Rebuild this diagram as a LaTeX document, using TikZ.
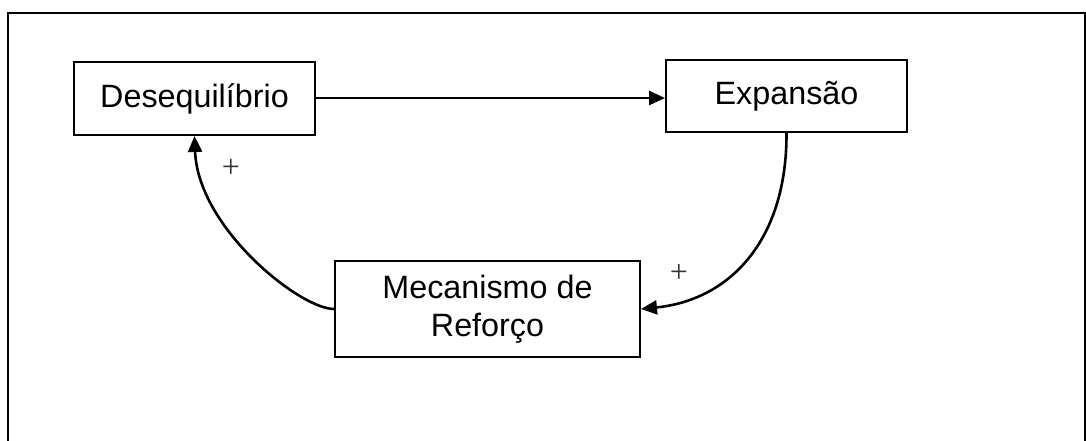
\documentclass[tikz,border=0pt]{standalone}
\usepackage{fontspec}
\setmainfont{Liberation Sans}
\newfontfamily\plusfont{Liberation Serif}
\usetikzlibrary{arrows.meta}
\begin{document}
\begin{tikzpicture}[x=1pt,y=-1pt,
  boxnode/.style={draw=black,line width=2pt,inner sep=0pt,align=center,
    font=\fontsize{32.3}{38}\selectfont},
  conn/.style={line width=2.6pt,-{Triangle[length=16pt,width=14pt]}},
  plusmark/.style={text=black!80,font=\plusfont\fontsize{32}{32}\selectfont,inner sep=0pt}]
\useasboundingbox (0,0) rectangle (1086,441);
\draw[line width=2.5pt] (8,460) -- (8,13) -- (1084.8,13) -- (1084.8,460);
\node[boxnode,minimum width=241pt,minimum height=73pt] (deseq) at (194.5,98.5) {Desequilíbrio};
\node[boxnode,minimum width=241pt,minimum height=72pt] (exp) at (786.5,96) {Expansão};
\node[boxnode,minimum width=305pt,minimum height=96pt] (mec) at (487.5,309) {Mecanismo de\\Reforço};
\coordinate (a1) at (deseq.east |- 0,98);
\draw[conn] (a1) -- (a1 -| exp.west);
\draw[conn] (exp.south) .. controls (787,240) and (730,300) .. (mec.east);
\draw[conn] (mec.west) .. controls (300,309) and (198,228) .. (deseq.south);
\node[plusmark] (p1) at (231,168) {+};
\node[plusmark] (p2) at (679,273) {+};
\end{tikzpicture}
\end{document}
